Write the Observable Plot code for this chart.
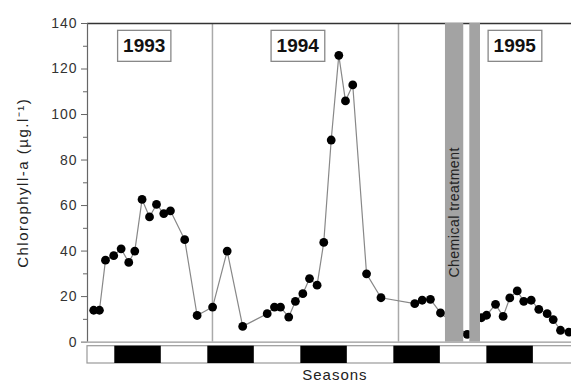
<!DOCTYPE html>
<html>
<head>
<meta charset="utf-8">
<script src="https://cdn.jsdelivr.net/npm/d3@7"></script>
<script src="https://cdn.jsdelivr.net/npm/@observablehq/plot@0.6"></script>
<style>
  body { margin: 0; background: #fff; }
  #chart svg { display: block; }
  #chart g[aria-label="y-axis tick label"] text { letter-spacing: 1px; }
</style>
</head>
<body>
<div id="chart"></div>
<script>
// Time axis: months since January 1993
const months = [4.34,4.71,5.10,5.63,6.11,6.60,6.99,7.46,7.94,8.39,8.86,9.29,10.21,11.01,
  12.01,12.95,13.95,15.53,16.00,16.39,16.92,17.35,17.83,18.26,18.75,19.18,19.66,20.15,20.58,21.05,21.94,22.87,
  25.05,25.53,26.06,26.71,28.43,29.35,29.68,30.26,30.75,31.18,31.66,32.08,32.56,33.05,33.59,33.98,34.45,34.99];
const chlorophyll = [14,14,36,38,41,35,40,62.7,55,60.5,56.5,57.7,45,11.7,
  15.4,40,6.9,12.5,15.4,15.4,11,17.9,21.3,27.9,25,43.8,88.8,126,106,113,30,19.5,
  16.9,18.4,18.8,12.8,3.4,10.7,11.8,16.6,11.3,19.4,22.5,17.9,18.4,14.4,12.5,9.9,5.2,4.4];

const yearBoundaries = [12, 24];
const yearLabels = ["1993", "1994", "1995"];
const yearLabelX = [7.6, 17.5, 31.5];
const yearLabelY = 130;

const treatmentStart = [27.03, 28.6];
const treatmentEnd = [28.21, 29.29];
const treatmentLabel = "Chemical treatment";
const treatmentLabelX = 27.62;
const treatmentLabelY = 57;

const darkSeasonStart = [5.7, 11.7, 17.7, 23.7, 29.7];
const darkSeasonEnd = [8.7, 14.7, 20.7, 26.7, 32.7];

const yMajorTicks = [0, 20, 40, 60, 80, 100, 120, 140];
const yMinorTicks = [10, 30, 50, 70, 90, 110, 130];

const xDomain = [3.94, 35.16];
const yDomain = [-9.4, 140];
const barTop = -1.8, barBottom = -9.4;

const points = months.map((m, i) => ({m, v: chlorophyll[i]}));
const treatments = treatmentStart.map((s, i) => ({s, e: treatmentEnd[i]}));
const seasons = darkSeasonStart.map((s, i) => ({s, e: darkSeasonEnd[i]}));
const years = yearLabels.map((t, i) => ({t, x: yearLabelX[i], y: yearLabelY}));

const font = "'Liberation Sans', Arial, sans-serif";

const plot = Plot.plot({
  width: 571,
  height: 387,
  marginLeft: 87,
  marginRight: 0,
  marginTop: 23,
  marginBottom: 24,
  style: {fontFamily: font, fontSize: "14px", color: "#333", background: "#fff", overflow: "visible"},
  x: {domain: xDomain, axis: null},
  y: {domain: yDomain, axis: null},
  marks: [
    // season bar
    Plot.rect([{s: xDomain[0], e: xDomain[1] + 2}], {x1: "s", x2: "e", y1: barTop, y2: barBottom, fill: "#fff", stroke: "#999", strokeWidth: 1.2}),
    Plot.rect(seasons, {x1: "s", x2: "e", y1: barTop, y2: barBottom, fill: "#000"}),
    // year separators
    Plot.ruleX(yearBoundaries, {y1: 0, y2: 140, stroke: "#aaa", strokeWidth: 1.5}),
    // baseline and top line
    Plot.ruleY([0], {x1: xDomain[0], x2: xDomain[1] + 2, stroke: "#999", strokeWidth: 1.2}),
    Plot.ruleY([140], {x1: xDomain[0], x2: xDomain[1] + 2, stroke: "#333", strokeWidth: 1.3}),
    // data
    Plot.line(points, {x: "m", y: "v", stroke: "#888", strokeWidth: 1.2}),
    Plot.dot(points, {x: "m", y: "v", r: 4.4, fill: "#000"}),
    // treatment bands
    Plot.rect(treatments, {x1: "s", x2: "e", y1: 0, y2: 140, fill: "#a3a3a3"}),
    Plot.text([treatmentLabel], {x: treatmentLabelX, y: treatmentLabelY, rotate: -90, fontSize: 14, fill: "#222", className: "spaced05"}),
    // year labels
    Plot.text(years, {x: "x", y: "y", text: "t", fontSize: 19, fontWeight: "bold", fill: "#111", className: "yearlabel"}),
    // y axis
    Plot.ruleX([xDomain[0]], {y1: 0, y2: 140, stroke: "#666", strokeWidth: 1.2}),
    Plot.axisY({ticks: yMajorTicks, tickSize: 6, tickPadding: 4, fontSize: 14, stroke: "#666"}),
    Plot.axisY({ticks: yMinorTicks, tickSize: 4, tickFormat: () => "", stroke: "#666"}),
    Plot.text(["Chlorophyll-a (µg.l⁻¹)"], {x: xDomain[0], y: 70, dx: -64, rotate: -90, textAnchor: "middle", fontSize: 15, fill: "#222", className: "spaced15"}),
    Plot.text(["Seasons"], {x: 19.9, frameAnchor: "bottom", dy: 16, fontSize: 15, fill: "#222", className: "spaced10"})
  ]
});

document.getElementById("chart").appendChild(plot);

// letter spacing for some labels
plot.querySelectorAll("g.spaced05 text").forEach(t => t.setAttribute("letter-spacing", "0.5"));
plot.querySelectorAll("g.spaced15 text").forEach(t => t.setAttribute("letter-spacing", "1.5"));
plot.querySelectorAll("g.spaced10 text").forEach(t => t.setAttribute("letter-spacing", "1"));

// draw boxes around year labels
plot.querySelectorAll("g.yearlabel text").forEach(t => {
  const b = t.getBBox();
  const r = document.createElementNS("http://www.w3.org/2000/svg", "rect");
  r.setAttribute("x", b.x - 5.5);
  r.setAttribute("y", b.y - 5);
  r.setAttribute("width", b.width + 11);
  r.setAttribute("height", b.height + 10);
  r.setAttribute("fill", "#fff");
  r.setAttribute("stroke", "#888");
  r.setAttribute("stroke-width", "1.3");
  const tr = t.getAttribute("transform");
  if (tr) r.setAttribute("transform", tr);
  t.parentNode.insertBefore(r, t);
});
</script>
</body>
</html>
